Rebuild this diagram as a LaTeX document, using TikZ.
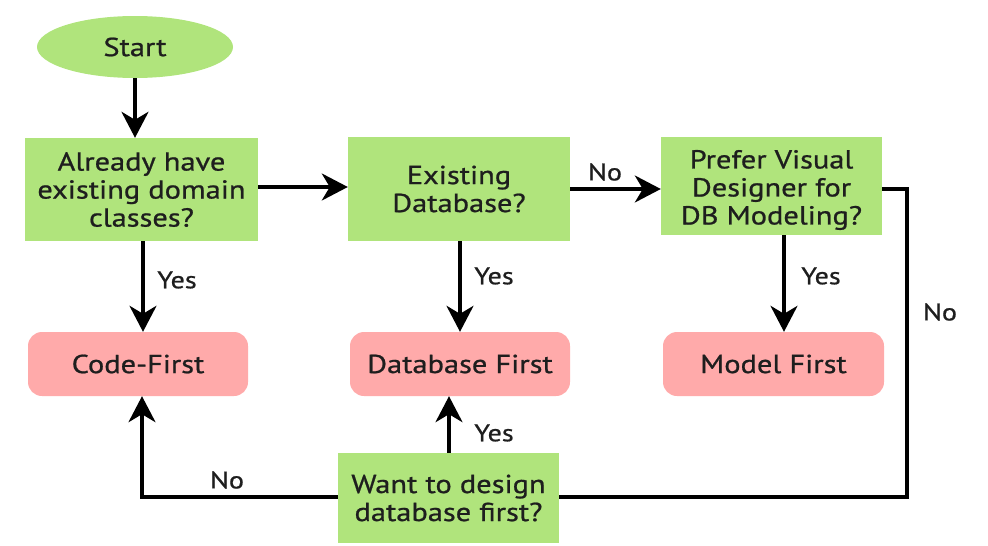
\documentclass[tikz,border=0pt]{standalone}
\usepackage{fontspec}
\setmainfont{PT Sans}[FakeStretch=1.17,FakeBold=0.8]
\usetikzlibrary{arrows.meta,shapes.geometric}
\definecolor{boxgreen}{RGB}{176,228,124}
\definecolor{boxpink}{RGB}{255,170,170}
\definecolor{ink}{RGB}{30,30,30}
\tikzset{
  every node/.style={font=\fontsize{26}{28}\selectfont, text=ink},
  decision/.style={rectangle, fill=boxgreen, align=center, inner sep=0pt},
  result/.style={rectangle, rounded corners=14pt, fill=boxpink, align=center, inner sep=0pt},
  conn/.style={line width=3.2pt, draw=black},
  arr/.style={conn, -{Stealth[length=26pt, width=27pt, inset=8pt]}},
  lbl/.style={font=\fontsize{24}{26}\selectfont}
}
\begin{document}
\begin{tikzpicture}[x=1pt,y=-1pt]
\useasboundingbox (0,0) rectangle (988,546);
\node[ellipse, fill=boxgreen, minimum width=196pt, minimum height=62pt, inner sep=0pt] (start) at (135,47) {Start};
\node[decision, minimum width=233pt, minimum height=103pt] (b1) at (141.5,189.5) {Already have\\existing domain\\classes?};
\node[decision, minimum width=222pt, minimum height=104pt] (b2) at (459,189) {Existing\\Database?};
\node[decision, minimum width=221pt, minimum height=98pt] (b3) at (771.5,186) {};
\node (b3t) at (771.5,190) [align=center] {Prefer Visual\\Designer for\\DB Modeling?};
\node[result, minimum width=220pt, minimum height=64pt] (code) at (138,364) {Code-First};
\node[result, minimum width=220pt, minimum height=64pt] (dbf) at (460,364) {Database First};
\node[result, minimum width=221pt, minimum height=64pt] (mf) at (773.5,364) {Model First};
\node[decision, minimum width=221pt, minimum height=90pt] (want) at (448.5,498) {Want to design\\database first?};

\coordinate (r1) at (907,189);
\coordinate (r2) at (907,497);
\coordinate (l1) at (142,497);

\draw[arr] (start.south) -- (start.south |- b1.north);
\draw[arr] (b1.east |- 0,187) -- (b2.west |- 0,187);
\draw[arr] (b2.east |- 0,189) -- (b3.west |- 0,189);
\draw[conn] (b3.east |- r1) -- (r1) -- (r2) -- (want.east |- r2);
\draw[arr] (b1.south -| 143,0) -- (code.north -| 143,0);
\draw[arr] (b2.south -| dbf.north) -- (dbf.north);
\draw[arr] (b3.south -| 784,0) -- (mf.north -| 784,0);
\draw[arr] (want.north -| 449,0) -- (dbf.south -| 449,0);
\draw[arr] (want.west |- l1) -- (l1) -- (code.south -| l1);

\node[lbl] (y1) at (177,280) {Yes};
\node[lbl] (y2) at (494,276) {Yes};
\node[lbl] (y3) at (821,276) {Yes};
\node[lbl] (n1) at (605,172) {No};
\node[lbl] (n2) at (940,312) {No};
\node[lbl] (y4) at (494,433) {Yes};
\node[lbl] (n3) at (227,480) {No};
\end{tikzpicture}
\end{document}
